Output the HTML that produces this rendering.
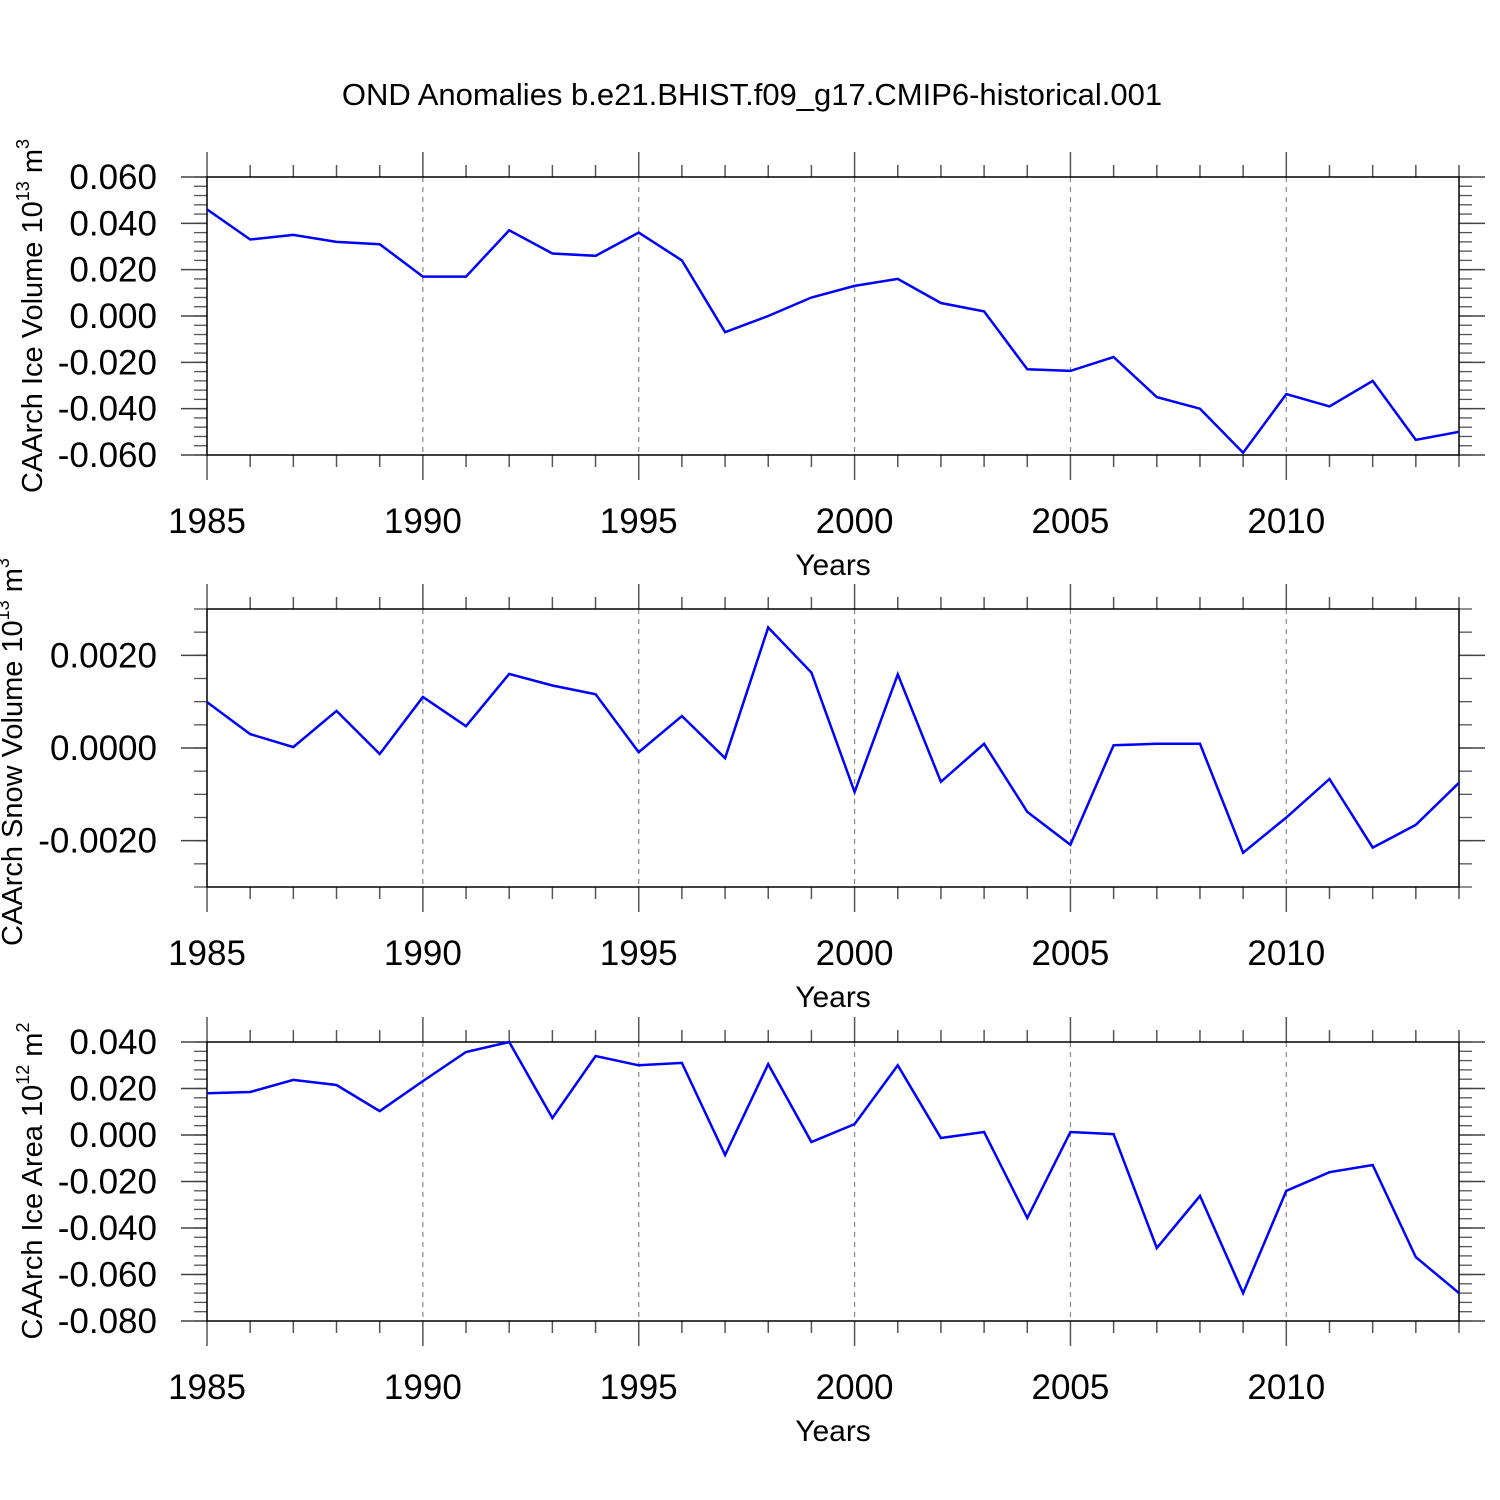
<!DOCTYPE html>
<html><head><meta charset="utf-8"><style>
body{margin:0;background:#fff}
svg{display:block;font-family:"Liberation Sans",sans-serif}
</style></head><body>
<svg id="c" width="1500" height="1500" xmlns="http://www.w3.org/2000/svg">
<rect width="1500" height="1500" fill="#fff"/>
<text x="752" y="105" font-size="31" text-anchor="middle">OND Anomalies b.e21.BHIST.f09_g17.CMIP6-historical.001</text>
</svg>
<script>
const years=[1985,1986,1987,1988,1989,1990,1991,1992,1993,1994,1995,1996,1997,1998,1999,2000,2001,2002,2003,2004,2005,2006,2007,2008,2009,2010,2011,2012,2013,2014];
const iceVolume=[0.046,0.033,0.035,0.032,0.031,0.017,0.017,0.037,0.027,0.026,0.036,0.024,-0.007,0.000,0.008,0.013,0.016,0.0056,0.002,-0.023,-0.0237,-0.0177,-0.035,-0.040,-0.059,-0.0337,-0.039,-0.028,-0.0535,-0.050];
const snowVolume=[0.00099,0.0003,0.00002,0.0008,-0.00013,0.0011,0.00047,0.0016,0.00135,0.00116,-0.00009,0.00069,-0.00022,0.0026,0.00163,-0.00095,0.00159,-0.00073,0.00009,-0.00138,-0.00209,0.00006,0.00009,0.00009,-0.00226,-0.0015,-0.00067,-0.00215,-0.00166,-0.00075];
const iceArea=[0.018,0.0185,0.0237,0.0215,0.0103,0.0232,0.0357,0.040,0.0073,0.034,0.030,0.031,-0.0086,0.0305,-0.003,0.0047,0.030,-0.0013,0.0013,-0.0357,0.0013,0.0004,-0.0486,-0.0262,-0.068,-0.024,-0.016,-0.0129,-0.0525,-0.068];
const xTickLabels=["1985","1990","1995","2000","2005","2010"];
const yTicks1=[0.06,0.04,0.02,0,-0.02,-0.04,-0.06];
const yLabels1=["0.060","0.040","0.020","0.000","-0.020","-0.040","-0.060"];
const yTicks2=[0.002,0,-0.002];
const yLabels2=["0.0020","0.0000","-0.0020"];
const yTicks3=[0.04,0.02,0,-0.02,-0.04,-0.06,-0.08];
const yLabels3=["0.040","0.020","0.000","-0.020","-0.040","-0.060","-0.080"];

const svg=document.getElementById('c');
const NS='http://www.w3.org/2000/svg';
function mk(tag,attrs,parent){const e=document.createElementNS(NS,tag);for(const k in attrs)e.setAttribute(k,attrs[k]);(parent||svg).appendChild(e);return e;}
const X0=207,X1=1459;
const xs=y=>X0+(y-1985)/(2014-1985)*(X1-X0);

function panel(name,top,bot,ymin,ymax,vals,yt,yl,minorStep,ylabelParts,lx,ly){
  const g=mk('g',{});
  
  
  const ys=v=>bot-(v-ymin)/(ymax-ymin)*(bot-top);
  for(let yr=1990;yr<=2010;yr+=5){
    const l=mk('line',{x1:xs(yr),x2:xs(yr),y1:top,y2:bot,stroke:'#888','stroke-width':1.2,'stroke-dasharray':'5,5'},g);
    
    
  }
  for(let yr=1985;yr<=2014;yr++){
    const maj=(yr%5===0);const len=maj?25:12;
    mk('line',{x1:xs(yr),x2:xs(yr),y1:top-len,y2:top,stroke:'#555','stroke-width':1.5},g);
    mk('line',{x1:xs(yr),x2:xs(yr),y1:bot,y2:bot+len,stroke:'#555','stroke-width':1.5},g);
  }
  const n=Math.round((ymax-ymin)/minorStep);
  for(let i=0;i<=n;i++){const v=ymin+i*minorStep;const y=ys(v);
    mk('line',{x1:X0-13,x2:X0,y1:y,y2:y,stroke:'#555','stroke-width':1.3},g);
    mk('line',{x1:X1,x2:X1+13,y1:y,y2:y,stroke:'#555','stroke-width':1.3},g);}
  yt.forEach((v,i)=>{const y=ys(v);
    mk('line',{x1:X0-26,x2:X0,y1:y,y2:y,stroke:'#444','stroke-width':1.5},g);
    mk('line',{x1:X1,x2:X1+26,y1:y,y2:y,stroke:'#444','stroke-width':1.5},g);
    const t=mk('text',{x:157,y:y+12,'font-size':35,'text-anchor':'end'},g);t.textContent=yl[i];
    
    
  });
  const box=mk('rect',{x:X0,y:top,width:X1-X0,height:bot-top,fill:'none',stroke:'#000','stroke-width':1.5},g);
  
  
  xTickLabels.forEach(s=>{const t=mk('text',{x:xs(+s),y:bot+78,'font-size':35,'text-anchor':'middle'},g);t.textContent=s;
    
    });
  const xt=mk('text',{x:833,y:bot+120,'font-size':30,'text-anchor':'middle'},g);xt.textContent='Years';
  
  
  const pts=vals.map((v,i)=>xs(years[i]).toFixed(1)+','+ys(v).toFixed(1)).join(' ');
  const pl=mk('polyline',{points:pts,fill:'none',stroke:'#0000ff','stroke-width':2.5,'stroke-linejoin':'miter'},g);
  
  
  const yt2=mk('text',{x:lx,y:ly,'font-size':29,'text-anchor':'middle',transform:`rotate(-90 ${lx} ${ly})`},g);
  
  
  yt2.innerHTML=ylabelParts;
}
panel('ice-volume',177,455,-0.06,0.06,iceVolume,yTicks1,yLabels1,0.004,
 'CAArch Ice Volume 10<tspan font-size="18" dy="-13">13</tspan><tspan dy="13"> m</tspan><tspan font-size="18" dy="-13">3</tspan>',42,316);
panel('snow-volume',609,887,-0.003,0.003,snowVolume,yTicks2,yLabels2,0.0005,
 'CAArch Snow Volume 10<tspan font-size="18" dy="-13">13</tspan><tspan dy="13"> m</tspan><tspan font-size="18" dy="-13">3</tspan>',22,752);
panel('ice-area',1042,1321,-0.08,0.04,iceArea,yTicks3,yLabels3,0.004,
 'CAArch Ice Area 10<tspan font-size="18" dy="-13">12</tspan><tspan dy="13"> m</tspan><tspan font-size="18" dy="-13">2</tspan>',42,1181);
</script>
</body></html>
